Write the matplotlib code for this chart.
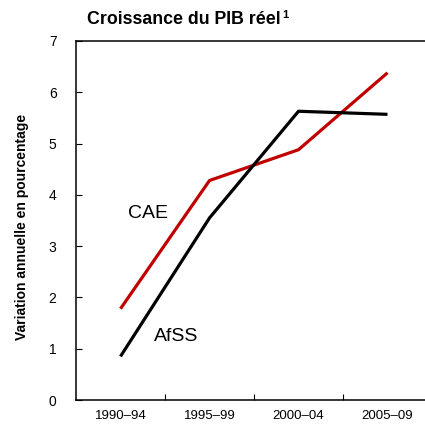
import matplotlib
matplotlib.use("Agg")
import matplotlib.pyplot as plt
import matplotlib.font_manager as fm

# Real GDP growth, annual averages by period
periods = ["1990–94", "1995–99", "2000–04", "2005–09"]
cae = [1.78, 4.28, 4.88, 6.38]
afss = [0.85, 3.55, 5.63, 5.57]

plt.rcParams['font.family'] = ['Liberation Sans', 'DejaVu Sans']
names = {f.name for f in fm.fontManager.ttflist}
narrow = "Liberation Sans Narrow" if "Liberation Sans Narrow" in names else "Liberation Sans"

fig = plt.figure(figsize=(4.25, 4.24), dpi=100)
ax = fig.add_axes([76 / 425, 1 - 400 / 424, 356 / 425, 359 / 424])

x = range(len(periods))
ax.plot(x, cae, color="#C00000", lw=2.3, solid_capstyle="butt")
ax.plot(x, afss, color="black", lw=2.3, solid_capstyle="butt")

ax.set_xlim(-0.5, 3.5)
ax.set_ylim(0, 7)
ax.set_yticks(range(8))
ax.set_xticks([0.5, 1.5, 2.5], minor=False)
ax.set_xticklabels([])
ax.set_xticks(list(x), minor=True)
ax.set_xticklabels(periods, minor=True)
ax.tick_params(axis="x", which="major", direction="in", length=4, width=0.8)
ax.tick_params(axis="x", which="minor", length=0, pad=7, labelsize=9.5)
ax.tick_params(axis="y", direction="in", length=4, width=0.8, pad=14, labelsize=10)
for s in ax.spines.values():
    s.set_linewidth(1.1)

ax.text(0.08, 3.55, "CAE", fontsize=14)
ax.text(0.38, 1.15, "AfSS", fontsize=14)

title = fig.text(87 / 425, 1 - 20 / 424, "Croissance du PIB réel",
                 fontsize=12.8, fontweight="bold", va="center", ha="left")
fig.canvas.draw()
bb = title.get_window_extent()
fig.text(bb.x1 / 425 + 0.003, 1 - 15 / 424, "1", fontsize=8, fontweight="bold",
         va="center", ha="left")
fig.text(22 / 425, 1 - 227 / 424, "Variation annuelle en pourcentage",
         rotation=90, va="center", ha="center", fontsize=10, fontweight="bold",
         family=[narrow, "Liberation Sans"])

fig.savefig("out.png", dpi=100)
